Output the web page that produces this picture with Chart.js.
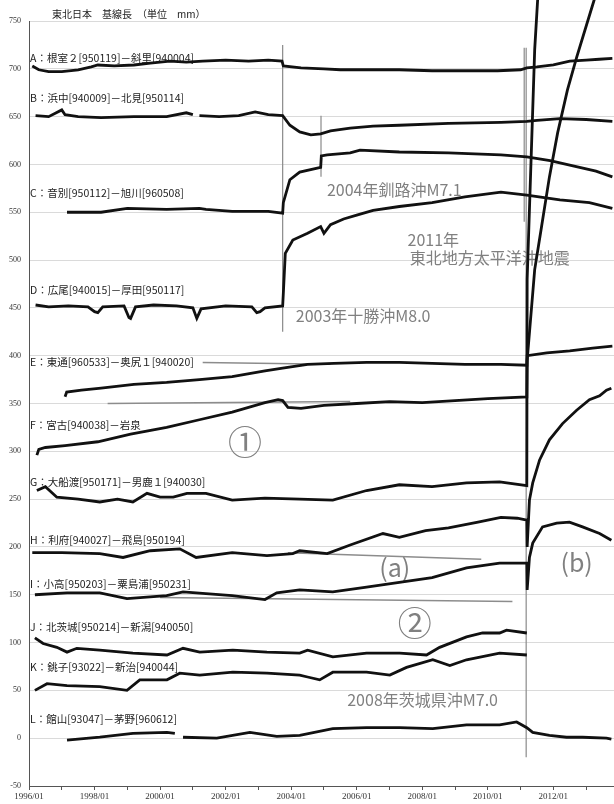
<!doctype html>
<html>
<head>
    <title>東北日本 基線長</title>
    <script src="https://cdn.jsdelivr.net/npm/chart.js@4.4.1/dist/chart.umd.min.js"></script>
    <style>
        html, body{
            margin: 0px;
            background: #fff;
        }
        #box{
            width: 614px;
            height: 804px;
        }
    </style>
</head>
<body>
    <div id="box"><canvas id="canvas" width="614" height="804"></canvas></div>
    <script>
        // baseline length series, [decimal year, mm]; null = gap in record
        var seriesA = [[1996.1,703],[1996.3,699],[1996.6,697],[1997.0,697],[1997.5,699],[1997.9,702],[1998.1,704],[1998.6,703],[1999.2,704],[1999.7,706],[2000.3,708],[2000.8,707],[2001.3,708],[2002.0,709],[2002.7,708],[2003.3,709],[2003.72,708],[2003.76,703],[2004.3,701],[2005.0,700],[2005.5,699],[2006.3,699],[2007.3,699],[2008.3,698],[2009.3,698],[2010.3,698],[2011.0,699],[2011.19,701],[2011.5,702],[2012.0,704],[2012.5,708],[2013.0,709],[2013.4,710],[2013.8,711]];
        var seriesB = [[1996.2,651],[1996.6,650],[1997.0,657],[1997.1,652],[1997.5,650],[1998.2,649],[1999.2,650],[2000.2,650],[2000.8,654],[2001.0,652],[2001.1,null],[2001.2,651],[2001.8,650],[2002.4,651],[2002.9,655],[2003.3,652],[2003.74,651],[2003.96,641],[2004.26,634],[2004.6,631],[2004.9,632],[2005.2,635],[2005.8,638],[2006.5,640],[2007.3,641],[2008.8,643],[2010.4,644],[2011.19,645],[2011.5,646],[2012.2,648],[2013.0,647],[2013.8,645]];
        var seriesC = [[1997.16,550],[1998.2,550],[1999.0,554],[2000.2,553],[2001.2,554],[2001.4,553],[2002.2,551],[2003.3,551],[2003.74,549],[2003.76,560],[2003.96,584],[2004.26,592],[2004.9,597],[2004.92,609],[2005.1,610],[2005.8,612],[2006.1,615],[2007.3,613],[2008.8,612],[2010.4,610],[2011.19,608],[2011.9,604],[2012.8,597],[2013.3,593],[2013.8,587]];
        var seriesD = [[1996.2,453],[1996.6,451],[1997.2,452],[1997.8,451],[1998.0,446],[1998.1,445],[1998.25,451],[1998.9,452],[1999.05,440],[1999.1,439],[1999.25,451],[1999.8,453],[2000.5,452],[2001.0,450],[2001.12,439],[2001.25,449],[2002.0,452],[2002.8,451],[2002.95,445],[2003.05,446],[2003.2,450],[2003.74,452],[2003.76,465],[2003.82,507],[2004.05,521],[2004.5,528],[2004.9,535],[2005.0,528],[2005.2,537],[2005.6,543],[2006.0,547],[2006.5,552],[2007.3,556],[2008.3,560],[2009.3,566],[2010.4,571],[2011.19,568],[2012.2,563],[2013.1,560],[2013.8,554]];
        var seriesE = [[1997.1,357],[1997.15,362],[1997.6,364],[1998.2,366],[1999.2,370],[2000.2,372],[2001.2,375],[2002.2,378],[2003.2,384],[2003.74,387],[2004.5,391],[2005.3,392],[2006.3,393],[2007.3,393],[2008.3,392],[2009.3,391],[2010.4,391],[2011.19,390],[2011.2,400],[2011.8,403],[2012.5,405],[2013.2,408],[2013.8,410]];
        var seriesF = [[1996.24,296],[1996.3,302],[1996.5,304],[1997.1,306],[1998.1,310],[1999.1,318],[2000.2,325],[2001.2,333],[2002.2,341],[2003.2,351],[2003.6,354],[2003.74,353],[2003.9,346],[2004.3,345],[2005.0,348],[2006.0,350],[2007.0,352],[2008.0,351],[2009.0,353],[2010.0,355],[2011.19,357],[2011.2,395],[2011.43,490],[2011.64,535],[2011.88,587],[2012.13,633],[2012.43,678],[2012.71,712],[2013.2,767],[2013.45,795]];
        var seriesG = [[1996.24,259],[1996.5,263],[1996.85,252],[1997.5,250],[1998.16,247],[1998.7,250],[1999.17,247],[1999.6,256],[2000.0,252],[2000.4,252],[2000.82,256],[2001.4,256],[2002.2,249],[2003.2,251],[2004.26,250],[2005.27,249],[2006.3,259],[2007.3,265],[2008.3,263],[2009.35,267],[2010.36,268],[2011.19,264],[2011.2,480],[2011.34,626],[2011.43,720],[2011.52,772],[2011.6,815]];
        var seriesH = [[1996.1,194],[1997.0,194],[1998.16,193],[1998.87,189],[1999.7,196],[2000.6,198],[2001.1,189],[2002.2,194],[2003.26,191],[2004.05,193],[2004.26,196],[2005.1,193],[2005.8,202],[2006.8,214],[2007.3,210],[2008.1,217],[2008.8,220],[2009.7,226],[2010.4,231],[2010.9,230],[2011.19,228],[2011.2,200],[2011.27,249],[2011.37,267],[2011.58,291],[2011.88,312],[2012.28,329],[2012.71,343],[2013.1,354],[2013.41,358],[2013.62,364],[2013.77,366]];
        var seriesI = [[1996.18,150],[1997.16,152],[1998.16,152],[1998.99,146],[2000.2,149],[2000.7,153],[2002.2,149],[2003.2,145],[2003.56,152],[2004.26,155],[2005.27,153],[2006.3,158],[2007.3,163],[2008.3,168],[2009.35,178],[2010.36,183],[2011.19,183],[2011.2,155],[2011.27,189],[2011.37,204],[2011.67,221],[2012.1,225],[2012.49,226],[2012.89,221],[2013.41,214],[2013.77,207]];
        var seriesJ = [[1996.18,105],[1996.43,99],[1996.85,95],[1997.16,90],[1997.46,94],[1998.16,92],[1999.17,89],[2000.21,87],[2000.7,94],[2001.21,90],[2002.22,92],[2003.26,90],[2004.26,89],[2004.5,92],[2005.27,85],[2006.3,89],[2007.31,89],[2008.13,87],[2008.53,95],[2009.35,106],[2009.84,110],[2010.36,110],[2010.57,113],[2011.19,110]];
        var seriesK = [[1996.18,50],[1996.55,57],[1997.16,55],[1998.16,54],[1998.99,50],[1999.38,61],[2000.21,61],[2000.6,68],[2001.21,66],[2002.22,69],[2003.26,68],[2004.26,66],[2004.5,64],[2004.87,61],[2005.27,69],[2006.3,69],[2007.01,66],[2007.52,74],[2008.32,82],[2008.84,76],[2009.35,82],[2010.36,89],[2011.19,87]];
        var seriesL = [[1997.16,-2],[1998.16,1],[1999.17,5],[2000.21,6],[2000.45,5],[2000.55,null],[2000.7,1],[2001.73,0],[2002.74,6],[2003.56,2],[2004.26,3],[2005.27,10],[2006.3,11],[2007.31,11],[2008.32,10],[2009.35,14],[2010.36,14],[2010.88,17],[2011.19,11],[2011.37,6],[2011.88,3],[2012.4,1],[2012.89,1],[2013.62,0],[2013.77,-1]];

        // grey reference trend lines
        var refE = [[2001.3,393],[2005.2,391]];
        var refF = [[1998.4,350],[2005.8,352]];
        var refH = [[2003.9,194],[2009.8,187]];
        var refI = [[2000.0,147],[2010.75,143]];

        // earthquake marker lines
        var quake2003 = [[2003.74,725],[2003.74,425]];
        var quake2004 = [[2004.91,651],[2004.91,587]];
        var quake2011 = [[2011.17,722],[2011.17,-20]];
        var quake2011b = [[2011.11,722],[2011.11,540]];

        var seriesNames = [
            'A：根室２[950119]－斜里[940004]',
            'B：浜中[940009]－北見[950114]',
            'C：音別[950112]－旭川[960508]',
            'D：広尾[940015]－厚田[950117]',
            'E：東通[960533]－奥尻１[940020]',
            'F：宮古[940038]－岩泉',
            'G：大船渡[950171]－男鹿１[940030]',
            'H：利府[940027]－飛島[950194]',
            'I：小高[950203]－粟島浦[950231]',
            'J：北茨城[950214]－新潟[940050]',
            'K：銚子[93022]－新治[940044]',
            'L：館山[93047]－茅野[960612]'
        ];
        var xTickYears = [1996, 1998, 2000, 2002, 2004, 2006, 2008, 2010, 2012];

        var allSeries = [seriesA, seriesB, seriesC, seriesD, seriesE, seriesF, seriesG, seriesH, seriesI, seriesJ, seriesK, seriesL];

        // where the name of each series is written (mm value of its baseline)
        var nameLevels = [711, 669, 570, 469, 393, 327, 268, 207, 161, 116, 74, 20];

        var notes = [
            {text: '2004年釧路沖M7.1', x: 2005.09, y: 573, size: 16, align: 'left'},
            {text: '2011年', x: 2007.55, y: 521, size: 16, align: 'left'},
            {text: '東北地方太平洋沖地震', x: 2007.62, y: 502, size: 16, align: 'left'},
            {text: '2003年十勝沖M8.0', x: 2004.14, y: 442, size: 16, align: 'left'},
            {text: '①', x: 2002.59, y: 310, size: 34, align: 'center'},
            {text: '(a)', x: 2007.16, y: 179, size: 25, align: 'center'},
            {text: '(b)', x: 2012.71, y: 184, size: 25, align: 'center'},
            {text: '②', x: 2007.77, y: 120, size: 34, align: 'center'},
            {text: '2008年茨城県沖M7.0', x: 2008.01, y: 40, size: 16, align: 'center'}
        ];

        var textPlugin = {
            id: 'texts',
            beforeDatasetsDraw: function(chart){
                var ctx = chart.ctx;
                var xs = chart.scales.x, ys = chart.scales.y;
                ctx.save();
                ctx.textBaseline = 'middle';

                ctx.fillStyle = '#222';
                ctx.font = '10px "Noto Sans CJK JP"';
                ctx.textAlign = 'left';
                ctx.fillText('東北日本　基線長　（単位　mm）', 52, 14);

                ctx.fillStyle = '#222';
                ctx.font = '10.5px "Noto Sans CJK JP"';
                for(var i = 0; i < seriesNames.length; ++i){
                    ctx.fillText(seriesNames[i], chart.chartArea.left + 1, ys.getPixelForValue(nameLevels[i]));
                }

                ctx.fillStyle = '#808080';
                for(var j = 0; j < notes.length; ++j){
                    var n = notes[j];
                    ctx.font = n.size + 'px "Noto Sans CJK JP"';
                    ctx.textAlign = n.align;
                    ctx.fillText(n.text, xs.getPixelForValue(n.x), ys.getPixelForValue(n.y));
                }
                ctx.restore();
            }
        };

        var datasets = [];
        for(var i = 0; i < allSeries.length; ++i){
            datasets.push({
                label: seriesNames[i],
                data: allSeries[i],
                borderColor: '#111',
                borderWidth: 2.8,
                pointRadius: 0,
                spanGaps: false,
                clip: {left: 0, top: false, right: 0, bottom: 0}
            });
        }
        var greyLines = [refE, refF, refH, refI];
        for(var g = 0; g < greyLines.length; ++g){
            datasets.push({data: greyLines[g], borderColor: '#8c8c8c', borderWidth: 1.5, pointRadius: 0});
        }
        var quakeLines = [quake2003, quake2004, quake2011, quake2011b];
        for(var q = 0; q < quakeLines.length; ++q){
            datasets.push({data: quakeLines[q], borderColor: '#8a8a8a', borderWidth: 1.2, pointRadius: 0});
        }

        var ctx = document.getElementById('canvas').getContext('2d');
        window.myChart = new Chart(ctx, {
            type: 'line',
            data: {datasets: datasets},
            plugins: [textPlugin],
            options: {
                responsive: false,
                animation: false,
                devicePixelRatio: 1,
                layout: {padding: {top: 21, right: 0, bottom: 0, left: 0}},
                plugins: {
                    legend: {display: false},
                    tooltip: {enabled: false}
                },
                scales: {
                    x: {
                        type: 'linear',
                        min: 1996,
                        max: 2013.85,
                        afterFit: function(s){ s.height = 18; },
                        ticks: {
                            stepSize: 1,
                            includeBounds: false,
                            autoSkip: false,
                            maxRotation: 0,
                            padding: 1,
                            color: '#333',
                            font: {family: '"Liberation Serif"', size: 9},
                            callback: function(v){
                                return xTickYears.indexOf(v) >= 0 ? v + '/01' : '';
                            }
                        },
                        grid: {drawOnChartArea: false, drawTicks: true, tickLength: 4, color: '#555'},
                        border: {color: '#555'}
                    },
                    y: {
                        min: -50,
                        max: 750,
                        afterFit: function(s){ s.width = 29; },
                        ticks: {
                            stepSize: 50,
                            padding: 8,
                            color: '#333',
                            font: {family: '"Liberation Serif"', size: 8}
                        },
                        grid: {color: '#dadada', drawTicks: false},
                        border: {color: '#555'}
                    }
                }
            }
        });
    </script>
</body>
</html>
